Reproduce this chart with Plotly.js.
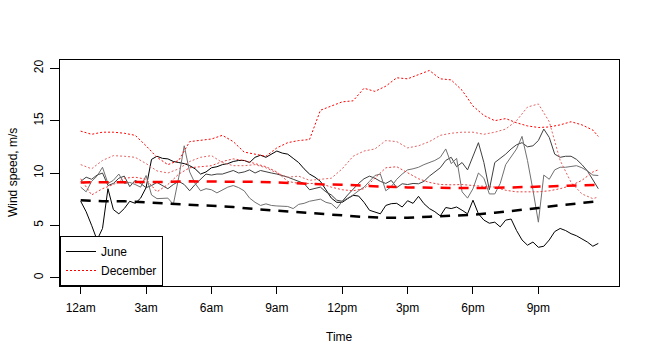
<!DOCTYPE html>
<html>
<head>
<meta charset="utf-8">
<script src="https://cdn.plot.ly/plotly-3.0.1.min.js"></script>
<style>
  html, body { margin: 0; padding: 0; background: #fff; }
  #chart { width: 650px; height: 360px; }
</style>
</head>
<body>
<div id="chart"></div>
<script>
// ---------- data (wind speed, m/s) ----------
// June series: every 15 min, 0:00 .. 23:45
const juneA = [
  7.3, 6.3, 5.0, 3.6, 4.7, 8.5, 6.5, 6.1,
  6.6, 7.3, 7.1, 7.6, 8.6, 11.3, 11.6, 11.4,
  11.35, 11.1, 11.0, 10.9, 10.7, 10.4, 9.9, 10.1,
  10.5, 10.6, 10.8, 10.9, 11.1, 11.2, 11.2, 11.0,
  11.5, 11.7, 11.5, 11.8, 12.1, 11.9, 11.8, 11.4,
  11.0, 10.4, 9.9, 9.6, 9.2, 8.4, 7.6, 7.2,
  7.2, 7.55, 7.86, 7.8, 7.2, 6.44, 6.3, 6.1,
  6.9, 7.07, 7.1, 6.75, 7.35, 7.1, 7.77, 7.07,
  6.6, 6.3, 5.9, 6.7, 6.6, 6.75, 6.44, 6.1,
  7.4, 6.1, 5.5, 5.2, 5.3, 4.85, 5.5, 5.6,
  4.5, 3.6, 3.1, 3.4, 2.9, 3.0, 3.6, 4.4,
  4.7, 4.5, 4.2, 4.0, 3.7, 3.4, 3.0, 3.27
];
const juneB = [
  9.2, 9.6, 9.4, 9.8, 10.0, 8.8, 9.0, 9.5,
  9.7, 8.7, 9.3, 9.0, 8.6, 8.8, 9.1, 8.8,
  8.5, 8.9, 9.2, 8.9, 8.3, 8.9, 9.45, 9.9,
  9.8, 9.9, 9.9, 10.1, 10.24, 10.0, 10.1, 10.3,
  10.0, 10.24, 10.1, 10.0, 9.9, 9.76, 9.6, 9.4,
  9.2, 9.0, 8.4, 8.5, 8.65, 8.2, 7.9, 7.4,
  7.3, 7.9, 8.5, 9.0, 9.45, 9.7, 9.5, 9.2,
  9.0, 9.29, 8.6, 8.97, 8.9, 9.0, 8.97, 9.2,
  9.7, 10.1, 10.5, 11.2, 11.5, 10.6, 11.0, 10.3,
  11.6, 12.9, 11.0, 8.4, 11.0, 11.4, 11.8, 12.3,
  12.7, 12.9, 12.5, 12.6, 13.1, 14.2, 13.4, 11.8,
  11.5, 11.6, 11.6, 11.3, 10.8, 10.2, 9.3, 8.5
];
const juneC = [
  8.65, 8.2, 9.2, 9.7, 10.55, 9.0, 9.3, 9.9,
  9.0, 9.1, 8.9, 8.65, 9.76, 7.9, 7.55, 7.55,
  7.6, 7.0, 9.6, 12.6, 10.1, 9.0, 8.3, 8.5,
  8.4, 8.1, 8.4, 8.65, 8.8, 8.6, 8.3, 7.6,
  7.2, 6.9, 7.05, 6.9, 6.85, 6.85, 6.8, 6.6,
  7.0, 7.1, 7.3, 7.4, 7.5, 7.2, 7.07, 6.6,
  7.3, 7.6, 7.9, 8.3, 8.65, 9.2, 9.76, 9.9,
  8.3, 8.7, 9.4, 9.9, 10.3, 10.4, 10.55, 10.8,
  11.0, 11.2, 11.5, 12.3, 10.9, 11.4, 8.2, 7.6,
  8.5, 10.0, 9.5, 8.0, 8.0, 9.0, 10.8, 11.6,
  12.3, 13.5, 11.2, 8.4, 5.3, 9.8, 9.4, 10.3,
  10.55, 10.55, 10.6, 10.7, 10.5, 10.2, 9.8, 9.76
];

// December series: every 30 min, 0:00 .. 23:30, then 23:45
const decA = [
  14.0, 13.7, 13.9, 13.9, 13.8, 13.6, 12.6, 11.5,
  10.8, 11.2, 13.0, 13.1, 13.25, 13.6, 13.0, 12.0,
  11.8, 11.6, 12.4, 12.9, 13.1, 13.2, 16.0, 16.4,
  16.8, 16.9, 18.1, 17.8, 18.3, 19.1, 19.0, 19.4,
  19.8, 19.0, 18.9, 17.9, 16.4, 15.5, 15.0, 15.2,
  14.8, 14.5, 14.35, 14.4, 14.6, 14.9, 14.6, 14.1,
  13.5
];
const decB = [
  10.8, 10.4, 11.2, 11.66, 11.6, 11.5, 10.9, 10.2,
  10.0, 10.4, 11.1, 11.5, 11.66, 11.0, 10.7, 10.7,
  10.8, 10.5, 10.0, 9.6, 9.7, 9.3, 9.4, 9.5,
  10.4, 11.6, 12.1, 12.3, 13.1, 13.0, 12.4, 12.6,
  13.0, 13.6, 13.8, 13.9, 13.9, 13.7, 13.9, 14.2,
  15.0, 16.3, 16.6, 14.9, 11.2, 9.1, 8.0, 7.55,
  7.7
];
const decC = [
  9.45, 7.9, 8.5, 8.9, 9.5, 9.6, 9.4, 8.2,
  8.9, 9.9, 10.5, 10.6, 10.7, 11.1, 11.35, 11.2,
  10.9, 10.6, 10.1, 9.2, 9.0, 9.0, 9.0, 8.65,
  8.4, 8.3, 8.5, 9.5, 10.5, 10.6, 10.0, 9.45,
  9.1, 8.9, 8.87, 8.9, 8.8, 8.7, 8.65, 8.35,
  8.2, 8.2, 8.2, 8.3, 8.5, 8.8, 9.3, 10.1,
  10.3
];

// Typical-day lines: hourly, 0:00 .. 23:00, then 23:45
const juneTypical = [
  7.4, 7.3, 7.3, 7.2, 7.1, 7.0, 6.9, 6.75, 6.55, 6.4, 6.25, 6.05,
  5.95, 5.8, 5.72, 5.72, 5.82, 5.92, 6.0, 6.2, 6.4, 6.65, 6.92, 7.15, 7.3
];
const decTypical = [
  9.1, 9.1, 9.1, 9.15, 9.15, 9.2, 9.2, 9.2, 9.15, 9.1, 9.0, 8.92,
  8.88, 8.75, 8.68, 8.62, 8.58, 8.56, 8.55, 8.58, 8.62, 8.68, 8.75, 8.82, 8.85
];

const tickHours = [0, 3, 6, 9, 12, 15, 18, 21];
const tickLabels = ['12am', '3am', '6am', '9am', '12pm', '3pm', '6pm', '9pm'];
const yTicks = [0, 5, 10, 15, 20];

// ---------- time grids ----------
function grid(step, n) {
  const out = [];
  for (let i = 0; i < n; i++) out.push(i * step);
  return out;
}
const quarterHours = grid(0.25, juneA.length);
const halfHours = grid(0.5, decA.length - 1).concat([23.75]);
const wholeHours = grid(1, juneTypical.length - 1).concat([23.75]);

function thin(y, x, color, dash, name, show) {
  return {
    x: x, y: y, type: 'scatter', mode: 'lines',
    line: { color: color, width: 1, dash: dash },
    name: name, showlegend: show, hoverinfo: 'skip'
  };
}
function typical(y, color) {
  return {
    x: wholeHours, y: y, type: 'scatter', mode: 'lines',
    line: { color: color, width: 2.5, dash: '10px,8px' },
    showlegend: false, hoverinfo: 'skip'
  };
}

const data = [
  thin(juneA, quarterHours, '#000000', 'solid', 'June', true),
  thin(juneB, quarterHours, '#404040', 'solid', 'June', false),
  thin(juneC, quarterHours, '#707070', 'solid', 'June', false),
  thin(decA, halfHours, '#ff0000', '2px,2px', 'December', true),
  thin(decB, halfHours, '#e36464', '2px,2px', 'December', false),
  thin(decC, halfHours, '#f03c3c', '2px,2px', 'December', false),
  typical(juneTypical, '#000000'),
  typical(decTypical, '#ff0000')
];

const font = { family: 'Arial, "Liberation Sans", sans-serif', size: 12, color: '#000' };

const layout = {
  width: 650, height: 360,
  margin: { l: 60, r: 31, t: 60, b: 74 },
  paper_bgcolor: '#fff', plot_bgcolor: '#fff',
  font: font,
  showlegend: true,
  legend: {
    x: 0, y: 0, xanchor: 'left', yanchor: 'bottom',
    bgcolor: '#fff', bordercolor: '#000', borderwidth: 1,
    font: font, tracegroupgap: 0
  },
  xaxis: {
    range: [-0.95, 24.7],
    tickvals: tickHours, ticktext: tickLabels,
    ticks: 'outside', ticklen: 7, tickcolor: '#000', tickwidth: 1,
    ticklabelstandoff: 4,
    showgrid: false, zeroline: false,
    showline: true, mirror: true, linecolor: '#000', linewidth: 1
  },
  yaxis: {
    range: [-0.8, 20.8],
    tickvals: yTicks,
    ticks: 'outside', ticklen: 9, tickcolor: '#000', tickwidth: 1,
    tickangle: -90, ticklabelstandoff: 2,
    showgrid: false, zeroline: false,
    showline: true, mirror: true, linecolor: '#000', linewidth: 1
  },
  annotations: [
    { text: 'Time', xref: 'paper', yref: 'paper', x: 0.5, y: -0.227,
      xanchor: 'center', yanchor: 'middle', showarrow: false, font: font },
    { text: 'Wind speed, m/s', xref: 'paper', yref: 'paper', x: -0.084, y: 0.5,
      xanchor: 'center', yanchor: 'middle', textangle: -90, showarrow: false, font: font }
  ]
};

Plotly.newPlot('chart', data, layout, { displayModeBar: false, staticPlot: true });
</script>
</body>
</html>
